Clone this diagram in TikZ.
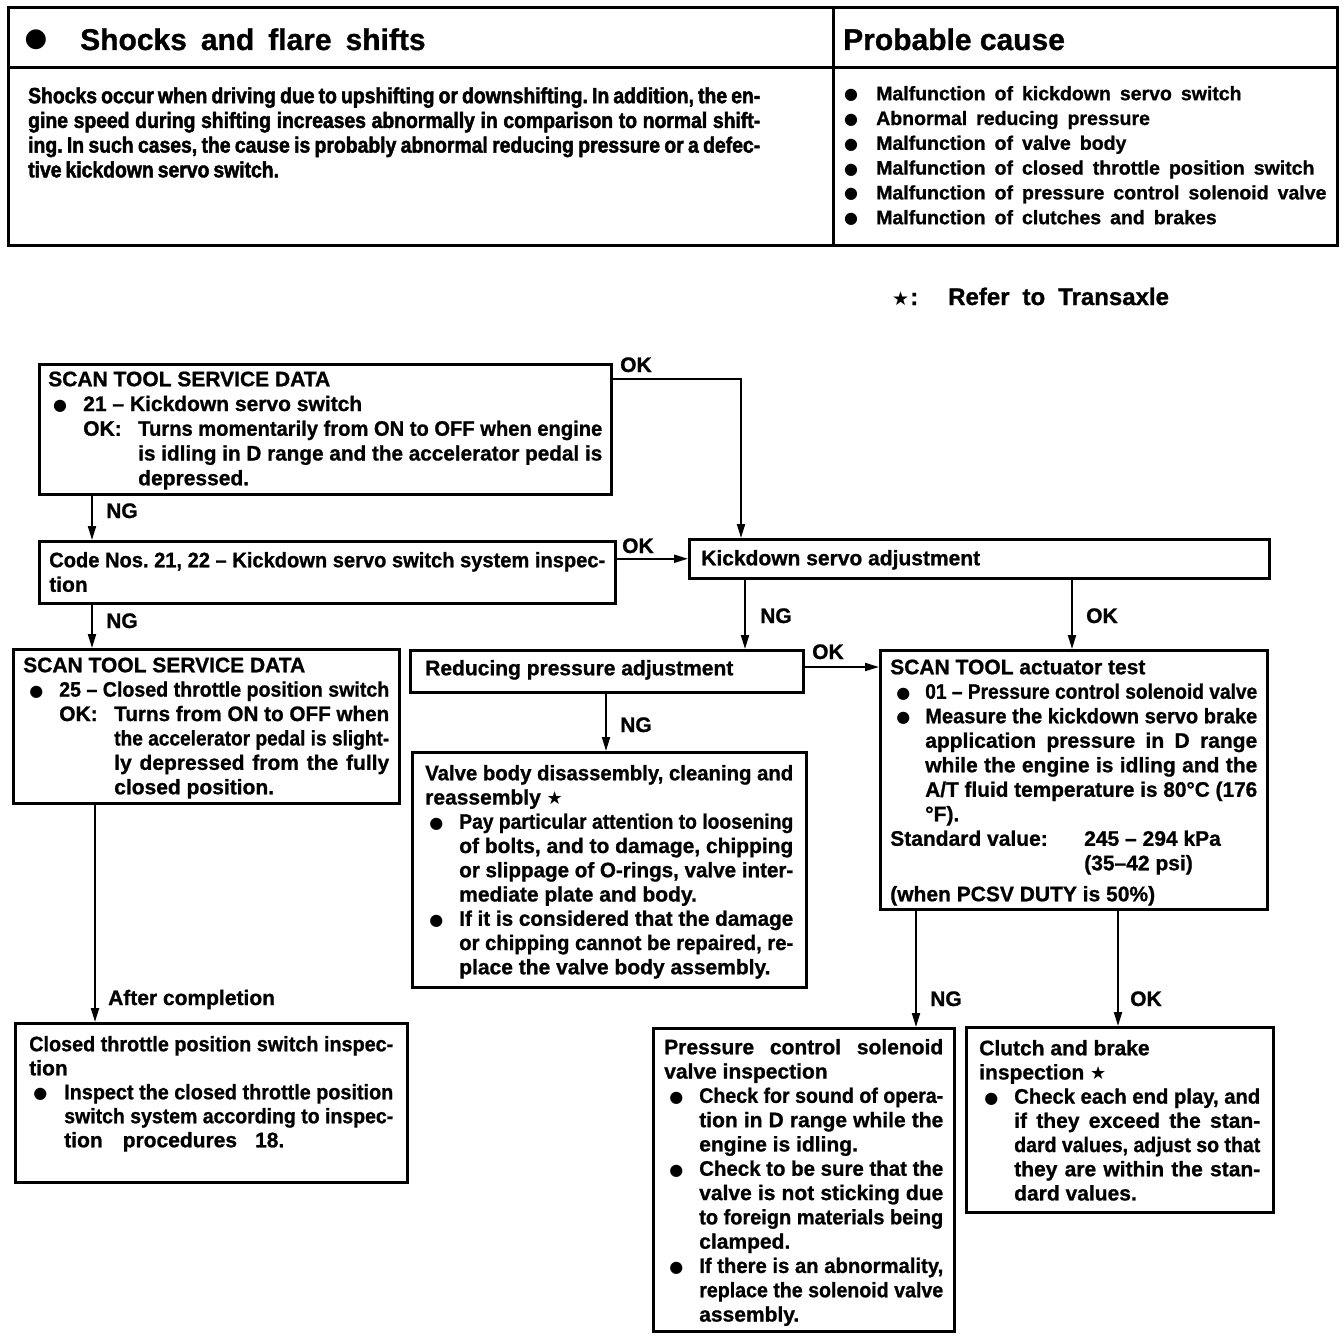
\documentclass[tikz,border=0pt]{standalone}
\usepackage{fontspec}
\usepackage{graphicx}
\setmainfont{Liberation Sans}[BoldFeatures={FakeBold=1}]
\newfontfamily\condf{Liberation Sans}[FakeStretch=0.88, BoldFeatures={FakeBold=2}]
\newfontfamily\symf{DejaVu Sans}
\usetikzlibrary{arrows.meta}
\frenchspacing

\newlength\jlw
\newsavebox\jlbox
\newcommand\mystrut{\vrule height 16pt depth 5pt width 0pt}
\newcommand\JFit[2]{\setlength\jlw{#1}\sbox\jlbox{#2}%
  \ifdim\wd\jlbox>\jlw\resizebox{\jlw}{\height}{\usebox\jlbox}\else\hbox to \jlw{#2}\fi}
\newcommand\LJ[3]{\hbox to \hsize{\mystrut\hbox to #2{#1\hfil}\JFit{\dimexpr\hsize-#2\relax}{#3}}}
\newcommand\LR[3]{\hbox to \hsize{\mystrut\hbox to #2{#1\hfil}#3\hfil}}
\newcommand\FB[5]{\vbox to #2{\hsize=#1\relax\baselineskip=#3\relax\lineskip=0pt\lineskiplimit=-100pt\relax\kern#4\relax#5\vfil}}
\newcommand\bul{\raisebox{0.5pt}{\symf\mdseries\fontsize{16}{16}\selectfont ●}}
\newcommand\st{{\symf\mdseries\fontsize{18}{18}\selectfont ★}}
\newcommand\fbf{\bfseries\fontsize{21}{24}\selectfont}

\begin{document}
\begin{tikzpicture}[x=1pt,y=-1pt,
  fb/.style={draw, line width=2.5pt, inner ysep=0pt, anchor=north west, font=\fbf},
  lbl/.style={anchor=base west, inner sep=0pt, font=\fbf},
  arr/.style={line width=2pt, -{Triangle[length=14pt,width=8pt]}}]
\useasboundingbox (0,0) rectangle (1344,1338);

% ---------- top table ----------
\draw[line width=3pt] (8,8) rectangle (1337,245);
\draw[line width=3pt] (833,8) -- (833,245);
\draw[line width=3pt] (8,68) -- (1337,68);
\node[anchor=base, inner sep=0pt, font=\symf\fontsize{26}{26}\selectfont] (hb) at (36,47) {●};
\node[anchor=base west, inner sep=0pt, font=\bfseries\fontsize{30}{30}\selectfont] (h1) at (80,50) {\spaceskip=14pt Shocks and flare shifts};
\node[anchor=base west, inner sep=0pt, font=\bfseries\fontsize{30}{30}\selectfont] (h2) at (843,50) {Probable cause};
\node[anchor=north west, inner sep=0pt, font=\condf\bfseries\fontsize{22}{24}\selectfont] (P) at (28,87) {\spaceskip=4pt plus 30pt minus 1pt\FB{732pt}{100pt}{24.7pt}{0pt}{%
 \LJ{}{0pt}{Shocks occur when driving due to upshifting or downshifting. In addition, the en-}
 \LJ{}{0pt}{gine speed during shifting increases abnormally in comparison to normal shift-}
 \LJ{}{0pt}{ing. In such cases, the cause is probably abnormal reducing pressure or a defec-}
 \LR{}{0pt}{tive kickdown servo switch.}}};
\node[anchor=north west, inner sep=0pt, font=\bfseries\fontsize{19.5}{24}\selectfont] (PC) at (843,84) {\spaceskip=9pt plus 3pt minus 1pt\FB{487pt}{150pt}{24.8pt}{0pt}{%
 \LR{\hskip1pt\bul}{33pt}{Malfunction of kickdown servo switch}
 \LR{\hskip1pt\bul}{33pt}{Abnormal reducing pressure}
 \LR{\hskip1pt\bul}{33pt}{Malfunction of valve body}
 \LR{\hskip1pt\bul}{33pt}{Malfunction of closed throttle position switch}
 \LR{\hskip1pt\bul}{33pt}{Malfunction of pressure control solenoid valve}
 \LR{\hskip1pt\bul}{33pt}{Malfunction of clutches and brakes}}};
\node[anchor=base west, inner sep=0pt, font=\bfseries\fontsize{24}{24}\selectfont] (ref) at (892,305) {{\symf\mdseries\fontsize{19}{19}\selectfont ★}\kern1pt:\hskip30pt Refer\hskip13pt to\hskip13pt Transaxle};

% ---------- flowchart boxes ----------
\node[fb, inner xsep=9pt] (A) at (38,363) {\FB{554pt}{130pt}{24.75pt}{6pt}{%
 \LR{}{0pt}{SCAN TOOL SERVICE DATA}
 \LR{\hskip5pt\bul}{35pt}{21 – Kickdown servo switch}
 \LJ{\hskip35pt OK:}{90pt}{Turns momentarily from ON to OFF when engine}
 \LJ{}{90pt}{is idling in D range and the accelerator pedal is}
 \LR{}{90pt}{depressed.}}};

\node[fb, inner xsep=10pt] (B) at (38,540) {\FB{556pt}{62pt}{24.5pt}{10pt}{%
 \LJ{}{0pt}{Code Nos. 21, 22 – Kickdown servo switch system inspec-}
 \LR{}{0pt}{tion}}};

\node[fb, inner xsep=12pt] (C) at (688,538) {\FB{556pt}{39pt}{24.5pt}{10pt}{%
 \LR{}{0pt}{Kickdown servo adjustment}}};

\node[fb, inner xsep=10pt] (D) at (12,648) {\FB{366pt}{154pt}{24.4pt}{7pt}{%
 \LR{}{0pt}{SCAN TOOL SERVICE DATA}
 \LJ{\hskip6pt\bul}{36pt}{25 – Closed throttle position switch}
 \LJ{\hskip36pt OK:}{91pt}{Turns from ON to OFF when}
 \LJ{}{91pt}{the accelerator pedal is slight-}
 \LJ{}{91pt}{ly depressed from the fully}
 \LR{}{91pt}{closed position.}}};

\node[fb, inner xsep=15pt] (E) at (409,649) {\FB{363pt}{42pt}{24.5pt}{9pt}{%
 \LR{}{0pt}{Reducing pressure adjustment}}};

\node[fb, inner xsep=13pt] (F) at (411,751) {\FB{368pt}{235pt}{24.25pt}{12pt}{%
 \LJ{}{0pt}{Valve body disassembly, cleaning and}
 \LR{}{0pt}{reassembly \st}
 \LJ{\hskip4pt\bul}{34pt}{Pay particular attention to loosening}
 \LJ{}{34pt}{of bolts, and to damage, chipping}
 \LJ{}{34pt}{or slippage of O-rings, valve inter-}
 \LR{}{34pt}{mediate plate and body.}
 \LJ{\hskip4pt\bul}{34pt}{If it is considered that the damage}
 \LJ{}{34pt}{or chipping cannot be repaired, re-}
 \LR{}{34pt}{place the valve body assembly.}}};

\node[fb, inner xsep=10pt] (G) at (879,649) {\FB{367pt}{259pt}{24.5pt}{8pt}{%
 \LR{}{0pt}{SCAN TOOL actuator test}
 \LJ{\hskip6pt\bul}{35pt}{01 – Pressure control solenoid valve}
 \LJ{\hskip6pt\bul}{35pt}{Measure the kickdown servo brake}
 \LJ{}{35pt}{application pressure in D range}
 \LJ{}{35pt}{while the engine is idling and the}
 \LJ{}{35pt}{A/T fluid temperature is 80°C (176}
 \LR{}{35pt}{°F).}
 \LR{Standard value:}{194pt}{245 – 294 kPa}
 \LR{}{194pt}{(35–42 psi)}
 \vskip6.5pt
 \LR{}{0pt}{(when PCSV DUTY is 50\%)}}};

\node[fb, inner xsep=14pt] (H) at (14,1022) {\FB{364pt}{159pt}{24pt}{12pt}{%
 \LJ{}{0pt}{Closed throttle position switch inspec-}
 \LR{}{0pt}{tion}
 \LJ{\hskip4pt\bul}{35pt}{Inspect the closed throttle position}
 \LJ{}{35pt}{switch system according to inspec-}
 \LR{}{35pt}{tion\hskip20pt procedures\hskip18pt 18.}}};

\node[fb, inner xsep=11pt] (I) at (652,1027) {\FB{279pt}{303pt}{24.3pt}{10pt}{%
 \LJ{}{0pt}{Pressure control solenoid}
 \LR{}{0pt}{valve inspection}
 \LJ{\hskip5pt\bul}{35pt}{Check for sound of opera-}
 \LJ{}{35pt}{tion in D range while the}
 \LR{}{35pt}{engine is idling.}
 \LJ{\hskip5pt\bul}{35pt}{Check to be sure that the}
 \LJ{}{35pt}{valve is not sticking due}
 \LJ{}{35pt}{to foreign materials being}
 \LR{}{35pt}{clamped.}
 \LJ{\hskip5pt\bul}{35pt}{If there is an abnormality,}
 \LJ{}{35pt}{replace the solenoid valve}
 \LR{}{35pt}{assembly.}}};

\node[fb, inner xsep=13pt] (J) at (965,1026) {\FB{281pt}{185pt}{24.2pt}{12pt}{%
 \LR{}{0pt}{Clutch and brake}
 \LR{}{0pt}{inspection \st}
 \LJ{\hskip5pt\bul}{35pt}{Check each end play, and}
 \LJ{}{35pt}{if they exceed the stan-}
 \LJ{}{35pt}{dard values, adjust so that}
 \LJ{}{35pt}{they are within the stan-}
 \LR{}{35pt}{dard values.}}};

% ---------- connectors ----------
\draw[arr] ([xshift=54pt]A.south west) -- ([xshift=54pt]A.south west |- B.north);
\draw[arr] ([yshift=-16pt]A.north east) -| ([xshift=53pt]C.north west);
\draw[arr] (B.east |- C.west) -- (C.west);
\draw[arr] ([xshift=54pt]B.south west) -- ([xshift=54pt]B.south west |- D.north);
\draw[arr] ([xshift=57pt]C.south west) -- ([xshift=57pt]C.south west |- E.north);
\draw[arr] ([xshift=384pt]C.south west) -- ([xshift=384pt]C.south west |- G.north);
\draw[arr] ([yshift=-18pt]E.north east) coordinate (e1) -- (e1 -| G.west);
\draw[arr] ([xshift=197pt]E.south west) -- ([xshift=197pt]E.south west |- F.north);
\draw[arr] ([xshift=83pt]D.south west) -- ([xshift=83pt]D.south west |- H.north);
\draw[arr] ([xshift=37pt]G.south west) -- ([xshift=37pt]G.south west |- I.north);
\draw[arr] ([xshift=239pt]G.south west) -- ([xshift=239pt]G.south west |- J.north);

% ---------- labels ----------
\node[lbl] (l1) at (106,518) {NG};
\node[lbl] (l2) at (620,372) {OK};
\node[lbl] (l3) at (622,553) {OK};
\node[lbl] (l4) at (106,628) {NG};
\node[lbl] (l5) at (760,623) {NG};
\node[lbl] (l6) at (1086,623) {OK};
\node[lbl] (l7) at (812,659) {OK};
\node[lbl] (l8) at (620,732) {NG};
\node[lbl] (l9) at (108,1005) {After completion};
\node[lbl] (l10) at (930,1006) {NG};
\node[lbl] (l11) at (1130,1006) {OK};
\end{tikzpicture}
\end{document}
